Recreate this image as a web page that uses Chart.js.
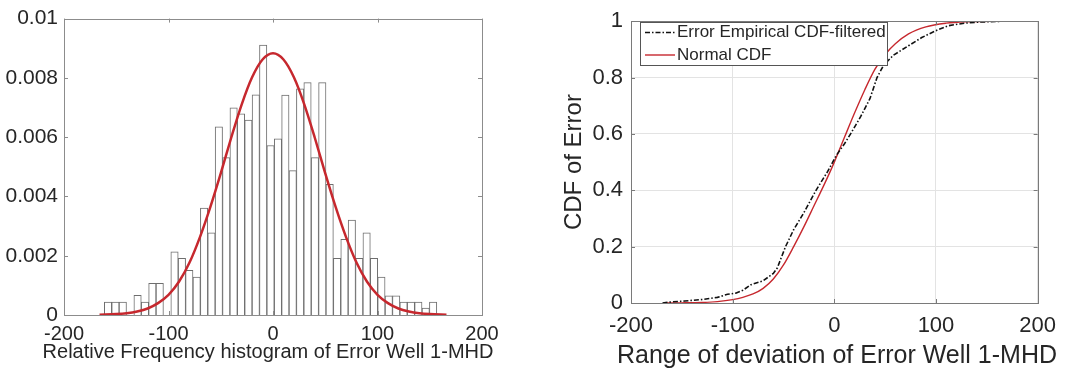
<!DOCTYPE html>
<html>
<head>
<meta charset="utf-8">
<script src="https://cdn.jsdelivr.net/npm/chart.js@4.4.1/dist/chart.umd.min.js"></script>
<style>
  html, body { margin: 0; padding: 0; background: #fff; }
  #wrap { position: relative; width: 1066px; height: 372px; }
  #histChart { position: absolute; left: 0; top: 0; }
  #cdfChart { position: absolute; left: 530px; top: 0; }
</style>
</head>
<body>
<div id="wrap">
  <canvas id="histChart" width="530" height="372"></canvas>
  <canvas id="cdfChart" width="536" height="372"></canvas>
</div>
<script>
/* ---------- histogram (left) ---------- */
const binCenters = [-157.87, -150.80, -143.73, -136.66, -129.59, -122.52, -115.45, -108.38, -101.31,
  -94.24, -87.17, -80.10, -73.03, -65.96, -58.89, -51.82, -44.75, -37.68, -30.61, -23.54, -16.47,
  -9.40, -2.33, 4.75, 11.82, 18.89, 25.96, 33.03, 40.10, 47.17, 54.24, 61.31, 68.38, 75.45, 82.52,
  89.59, 96.66, 103.73, 110.80, 117.87, 124.94, 132.01, 139.08, 146.15, 153.22];
const relFreq = [0.00044, 0.00044, 0.00044, 0, 0.00066, 0.00044, 0.00107, 0.00107, 0,
  0.00213, 0.00191, 0.00151, 0.00128, 0.00361, 0.00277, 0.00635, 0.00531, 0.00699, 0.00679, 0.00658, 0.00743,
  0.00911, 0.00572, 0.00594, 0.00742, 0.00487, 0.00763, 0.00784, 0.00531, 0.00784, 0.00441, 0.00191, 0.00255,
  0.0032, 0.00191, 0.00277, 0.00191, 0.00128, 0.00065, 0.00065, 0.00044, 0.00044, 0.00044, 0.00023, 0.00044];

// fitted normal density drawn over the bars
const pdfX = [-166, -150, -140, -130, -120, -110, -100, -90, -80, -70, -60, -50, -40, -30, -20, -10, 0,
  10, 20, 30, 40, 50, 60, 70, 80, 90, 100, 110, 120, 130, 140, 150, 166];
const pdfY = [0.00001, 0.00003, 0.00006, 0.00012, 0.00022, 0.0004, 0.00068, 0.00112, 0.00176, 0.00262,
  0.00364, 0.00478, 0.00598, 0.0071, 0.00802, 0.00862, 0.00883, 0.00862, 0.00802, 0.0071, 0.00598,
  0.00478, 0.00364, 0.00262, 0.00176, 0.00112, 0.00068, 0.0004, 0.00022, 0.00012, 0.00006, 0.00003, 0.00001];

const histYTicks = [0, 0.002, 0.004, 0.006, 0.008, 0.01];
const xTicks = [-200, -100, 0, 100, 200];

/* ---------- CDF (right) ---------- */
const ecdfX = [-169, -160, -147, -128, -115, -105, -97, -90, -82, -70, -60, -56, -48, -40, -30, -18,
  -6.5, 2, 10, 16, 26, 35, 42, 48.5, 58, 73, 86, 99, 112, 128, 144, 167];
const ecdfY = [0, 0.004, 0.007, 0.013, 0.02, 0.031, 0.035, 0.045, 0.065, 0.079, 0.105, 0.125, 0.2, 0.26,
  0.32, 0.4, 0.467, 0.524, 0.565, 0.6, 0.662, 0.725, 0.8, 0.844, 0.879, 0.913, 0.942, 0.965, 0.984,
  0.993, 0.997, 1];

const normCdfX = [-166, -150, -130, -115, -100, -90, -80, -70, -60, -50, -40, -30, -20, -10, 0, 10,
  20, 30, 40, 50, 60, 73, 90, 110, 130, 166];
const normCdfY = [0.0002, 0.0006, 0.002, 0.005, 0.012, 0.02, 0.032, 0.052, 0.085, 0.135, 0.2, 0.27,
  0.345, 0.42, 0.5, 0.588, 0.675, 0.757, 0.83, 0.882, 0.92, 0.955, 0.98, 0.993, 0.998, 1];

const cdfYTicks = [0, 0.2, 0.4, 0.6, 0.8, 1];

const FONT = '"Liberation Sans", Arial, Helvetica, sans-serif';
const TEXT = '#262626';
const RED = '#c6282e';

const zip = (xs, ys) => xs.map((x, i) => ({ x, y: ys[i] }));

// MATLAB-style frame: box around the plot area with short inward ticks
const axesBox = {
  id: 'axesBox',
  afterDatasetsDraw(chart, args, opts) {
    const { ctx, chartArea: a, scales: { x, y } } = chart;
    const len = opts.tickLen || 4;
    ctx.save();
    ctx.strokeStyle = opts.color || '#777';
    ctx.lineWidth = 1;
    ctx.strokeRect(Math.round(a.left) + 0.5, Math.round(a.top) + 0.5,
      Math.round(a.right - a.left), Math.round(a.bottom - a.top));
    ctx.beginPath();
    x.ticks.forEach(t => {
      const px = Math.round(x.getPixelForValue(t.value)) + 0.5;
      ctx.moveTo(px, a.bottom); ctx.lineTo(px, a.bottom - len);
      ctx.moveTo(px, a.top); ctx.lineTo(px, a.top + len);
    });
    y.ticks.forEach(t => {
      const py = Math.round(y.getPixelForValue(t.value)) + 0.5;
      ctx.moveTo(a.left, py); ctx.lineTo(a.left + len, py);
      ctx.moveTo(a.right, py); ctx.lineTo(a.right - len, py);
    });
    ctx.stroke();
    ctx.restore();
  }
};

// x-axis label allowed to run wider than the plot (Chart.js squeezes its own title to the axis width)
const wideXTitle = {
  id: 'wideXTitle',
  afterDraw(chart, args, opts) {
    if (!opts.text) return;
    const { ctx } = chart;
    ctx.save();
    ctx.font = `${opts.size}px ${FONT}`;
    ctx.fillStyle = TEXT;
    ctx.textAlign = 'center';
    ctx.textBaseline = 'alphabetic';
    ctx.fillText(opts.text, opts.x, opts.y);
    ctx.restore();
  }
};

// legend inside the plot, boxed, like the MATLAB one
const boxLegend = {
  id: 'boxLegend',
  afterDraw(chart, args, opts) {
    if (!opts.show) return;
    const { ctx } = chart;
    ctx.save();
    ctx.fillStyle = '#fff';
    ctx.fillRect(opts.x, opts.y, opts.w, opts.h);
    ctx.strokeStyle = '#555';
    ctx.lineWidth = 1;
    ctx.strokeRect(opts.x + 0.5, opts.y + 0.5, opts.w, opts.h);
    ctx.font = `${opts.size}px ${FONT}`;
    ctx.textBaseline = 'middle';
    chart.data.datasets.forEach((ds, i) => {
      const cy = opts.y + opts.rowTop + i * opts.rowGap;
      ctx.strokeStyle = ds.borderColor;
      ctx.lineWidth = ds.borderWidth;
      ctx.setLineDash(ds.borderDash || []);
      ctx.beginPath();
      ctx.moveTo(opts.x + 5, cy);
      ctx.lineTo(opts.x + 35, cy);
      ctx.stroke();
      ctx.setLineDash([]);
      ctx.fillStyle = TEXT;
      ctx.fillText(ds.label, opts.x + 37, cy);
    });
    ctx.restore();
  }
};

function fixedTicks(values) {
  return scale => { scale.ticks = values.map(v => ({ value: v })); };
}

new Chart(document.getElementById('histChart'), {
  type: 'bar',
  data: {
    datasets: [
      {
        type: 'line',
        label: 'Normal fit',
        data: zip(pdfX, pdfY),
        borderColor: RED,
        borderWidth: 2.5,
        pointRadius: 0,
        cubicInterpolationMode: 'monotone',
        order: 0
      },
      {
        type: 'bar',
        label: 'Relative frequency',
        data: zip(binCenters, relFreq),
        backgroundColor: '#fff',
        borderColor: '#6e6e6e',
        borderWidth: { top: 1, left: 1, right: 1, bottom: 0 },
        barPercentage: 1,
        categoryPercentage: 1,
        order: 1
      }
    ]
  },
  options: {
    responsive: false,
    animation: false,
    layout: { padding: { top: 13, right: 48, left: 0, bottom: 0 } },
    plugins: {
      legend: { display: false },
      tooltip: { enabled: false },
      axesBox: { color: '#8c8c8c', tickLen: 4 },
      wideXTitle: { text: 'Relative Frequency histogram of Error Well 1-MHD', size: 20, x: 268, y: 358 }
    },
    scales: {
      x: {
        type: 'linear',
        offset: false,
        min: -200, max: 200,
        afterBuildTicks: fixedTicks(xTicks),
        afterFit: s => { s.height = 57; },
        grid: { display: false, drawTicks: false },
        border: { display: false },
        ticks: { color: TEXT, padding: 7, font: { family: FONT, size: 20 }, maxRotation: 0, callback: v => String(v) }
      },
      y: {
        min: 0, max: 0.01,
        afterBuildTicks: fixedTicks(histYTicks),
        afterFit: s => { s.width = 64; },
        grid: { display: false, drawTicks: false },
        border: { display: false },
        ticks: { color: TEXT, padding: 6, font: { family: FONT, size: 21 }, callback: v => String(+v.toFixed(3)) }
      }
    }
  },
  plugins: [axesBox, wideXTitle]
});

new Chart(document.getElementById('cdfChart'), {
  type: 'line',
  data: {
    datasets: [
      {
        label: 'Error Empirical CDF-filtered',
        data: zip(ecdfX, ecdfY),
        borderColor: '#111',
        borderWidth: 1.6,
        borderDash: [5, 2, 1.5, 2],
        pointRadius: 0,
        tension: 0
      },
      {
        label: 'Normal CDF',
        data: zip(normCdfX, normCdfY),
        borderColor: RED,
        borderWidth: 1.4,
        pointRadius: 0,
        cubicInterpolationMode: 'monotone'
      }
    ]
  },
  options: {
    responsive: false,
    animation: false,
    layout: { padding: { top: 11, right: 23, left: 0, bottom: 0 } },
    plugins: {
      legend: { display: false },
      tooltip: { enabled: false },
      axesBox: { color: '#7a7a7a', tickLen: 4 },
      wideXTitle: { text: 'Range of deviation of Error Well 1-MHD', size: 25, x: 307, y: 363 },
      boxLegend: { show: true, x: 110, y: 22, w: 247, h: 43, rowTop: 10.5, rowGap: 22.5, size: 17 }
    },
    scales: {
      x: {
        type: 'linear',
        min: -200, max: 200,
        afterBuildTicks: fixedTicks(xTicks),
        afterFit: s => { s.height = 69; },
        grid: { color: '#e3e3e3', drawTicks: false },
        border: { display: false },
        ticks: { color: TEXT, padding: 10, font: { family: FONT, size: 22 }, maxRotation: 0, callback: v => String(v) }
      },
      y: {
        min: 0, max: 1,
        afterBuildTicks: fixedTicks(cdfYTicks),
        afterFit: s => { s.width = 101; },
        grid: { color: '#e3e3e3', drawTicks: false },
        border: { display: false },
        ticks: { color: TEXT, padding: 8, font: { family: FONT, size: 22 }, callback: v => String(v) },
        title: {
          display: true,
          text: 'CDF of Error',
          color: TEXT,
          font: { family: FONT, size: 24 },
          padding: { top: 30, bottom: 0 }
        }
      }
    }
  },
  plugins: [axesBox, wideXTitle, boxLegend]
});
</script>
</body>
</html>
